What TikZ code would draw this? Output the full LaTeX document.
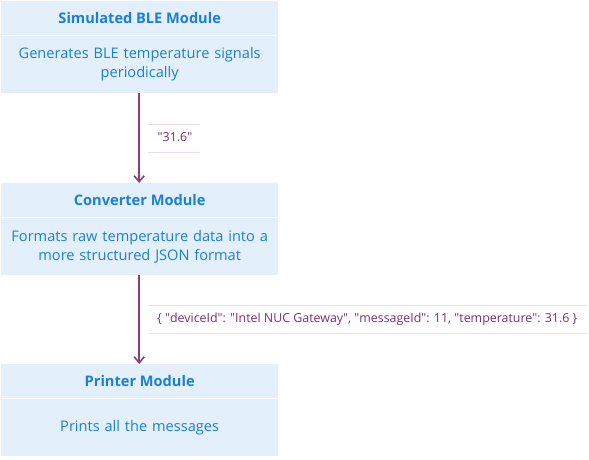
\documentclass[tikz,border=0pt]{standalone}
\usepackage{fontspec}
\setmainfont{Open Sans}
\usetikzlibrary{arrows.meta}
\definecolor{boxfill}{HTML}{E3F0FB}
\definecolor{boxtext}{HTML}{1A7FD6}
\definecolor{flow}{HTML}{8A3E7E}
\definecolor{flowtext}{HTML}{7B2F6E}
\definecolor{rule}{HTML}{EDD9E8}
% straight double quote as a glyph, so the TeX ligature mapping leaves it alone
\newcommand{\dq}{\XeTeXglyph\XeTeXcharglyph"22\relax}
\tikzset{
  header/.style={fill=boxfill, draw=none, minimum width=277pt, minimum height=34pt,
    inner sep=0pt, text=boxtext, font=\fontsize{14.6}{17}\selectfont\bfseries, anchor=north west},
  body/.style={fill=boxfill, draw=none, minimum width=277pt, minimum height=57pt,
    inner sep=0pt, text=boxtext, font=\fontsize{14.6}{19}\selectfont, align=center, text width=275pt, anchor=north west},
  flowarrow/.style={draw=flow, line width=1.6pt, -{Straight Barb[length=6pt,width=10pt,line width=1.6pt]}},
  flowlabel/.style={text=flowtext, font=\fontsize{12.4}{14}\selectfont, inner sep=0pt},
  labelrule/.style={draw=rule, line width=1pt}
}
\begin{document}
\begin{tikzpicture}[x=1pt,y=-1pt]
\useasboundingbox (0,0) rectangle (589,459);
% first module
\node[header] (h1) at (1,1) {Simulated BLE Module};
\node[body] (b1) at (1,36) {Generates BLE temperature signals\\periodically};
% second module
\node[header] (h2) at (1,183) {Converter Module};
\node[body] (b2) at (1,218) {Formats raw temperature data into a\\more structured JSON format};
% third module
\node[header] (h3) at (1,364) {Printer Module};
\node[body] (b3) at (1,399) {Prints all the messages};
% connectors
\draw[flowarrow] (b1.south) ++(-0.5,0) coordinate (a1s) -- (a1s |- h2.north);
\draw[flowarrow] (b2.south) ++(-0.5,0) coordinate (a2s) -- (a2s |- h3.north);
% connector labels
\node[flowlabel] (l1) at (175,137) {\dq31.6\dq};
\draw[labelrule] (148,124) -- (200,124);
\draw[labelrule] (148,152) -- (200,152);
\node[flowlabel, anchor=west] (l2) at (157,319) {\{ \dq deviceId\dq: \dq Intel NUC Gateway\dq, \dq messageId\dq: 11, \dq temperature\dq: 31.6 \}};
\draw[labelrule] (149,305) -- (587,305);
\draw[labelrule] (149,333) -- (587,333);
\end{tikzpicture}
\end{document}
